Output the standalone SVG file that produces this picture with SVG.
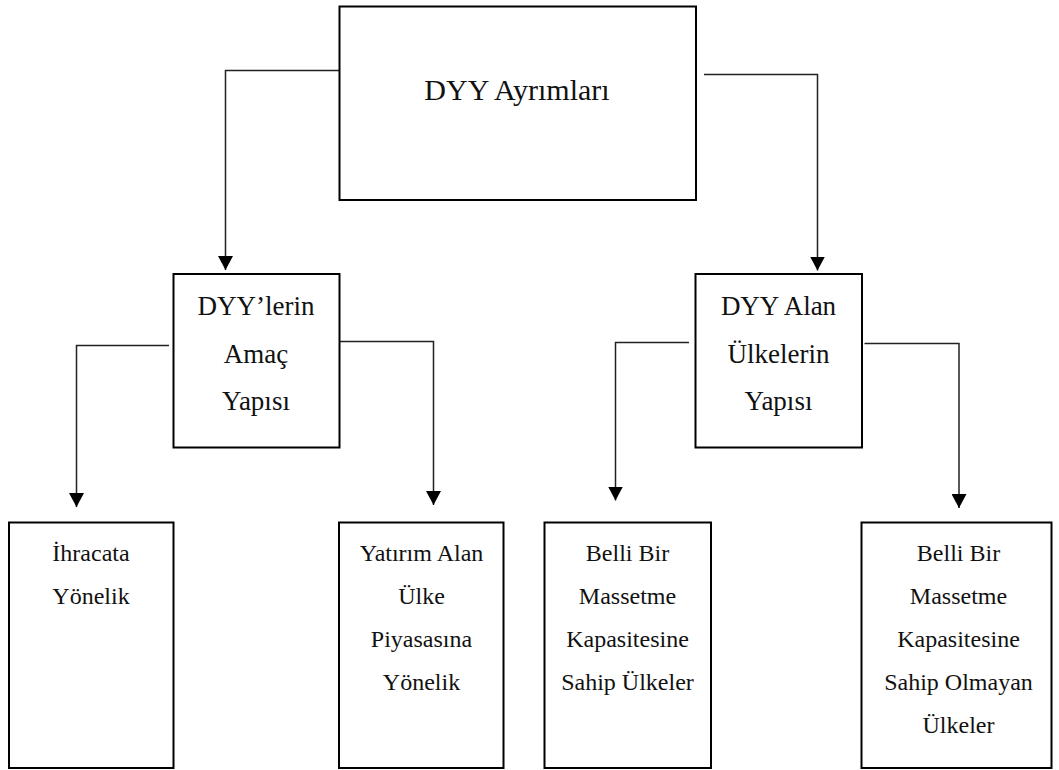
<svg xmlns="http://www.w3.org/2000/svg" width="1059" height="770" viewBox="0 0 1059 770">
<style>
.box{fill:#fff;stroke:#000;stroke-width:2}
.t{fill:#111;text-anchor:middle}
.t30{font-size:30px}
.t27{font-size:27px}
.t24{font-size:24px}
.c{fill:none;stroke:#222;stroke-width:1.5;marker-end:url(#ah)}
</style>
<defs>
<marker id="ah" markerUnits="userSpaceOnUse" markerWidth="14" markerHeight="15" viewBox="0 0 14 15" refX="14" refY="7.5" orient="auto">
<path d="M0,0 L14,7.5 L0,15 z" fill="#000"/>
</marker>
</defs>
<rect width="1059" height="770" fill="#fff"/>
<g id="connectors">
<path class="c" d="M339,70.5 H225.5 V270"/>
<path class="c" d="M704,74.5 H817.5 V270.5"/>
<path class="c" d="M169,345.5 H76.5 V507"/>
<path class="c" d="M339.5,341.5 H433.5 V505"/>
<path class="c" d="M689,342.5 H615.5 V500.5"/>
<path class="c" d="M864.5,343.5 H959 V508"/>
</g>
<g font-family="Liberation Serif, DejaVu Serif, serif">
<g id="n-top">
<rect class="box" x="339.5" y="6.5" width="356.5" height="193.5"/>
<text class="t t30" x="517" y="100">DYY Ayrımları</text>
</g>
<g id="n-amac">
<rect class="box" x="173.5" y="274" width="166" height="173.5"/>
<text class="t t27" x="256" y="315">DYY’lerin</text>
<text class="t t27" x="256" y="362.5">Amaç</text>
<text class="t t27" x="256" y="410">Yapısı</text>
</g>
<g id="n-alan">
<rect class="box" x="695.5" y="274" width="166.5" height="173.5"/>
<text class="t t27" x="778.5" y="315">DYY Alan</text>
<text class="t t27" x="778.5" y="362.5">Ülkelerin</text>
<text class="t t27" x="778.5" y="410">Yapısı</text>
</g>
<g id="n-ihracat">
<rect class="box" x="9" y="522.5" width="164.5" height="245.5"/>
<text class="t t24" x="91" y="561">İhracata</text>
<text class="t t24" x="91" y="604">Yönelik</text>
</g>
<g id="n-piyasa">
<rect class="box" x="339" y="522.5" width="164.5" height="245.5"/>
<text class="t t24" x="421.5" y="561">Yatırım Alan</text>
<text class="t t24" x="421.5" y="604">Ülke</text>
<text class="t t24" x="421.5" y="646.5">Piyasasına</text>
<text class="t t24" x="421.5" y="689.5">Yönelik</text>
</g>
<g id="n-sahip">
<rect class="box" x="544.5" y="522.5" width="166.5" height="245.5"/>
<text class="t t24" x="627.5" y="561">Belli Bir</text>
<text class="t t24" x="627.5" y="604">Massetme</text>
<text class="t t24" x="627.5" y="646.5">Kapasitesine</text>
<text class="t t24" x="627.5" y="689.5">Sahip Ülkeler</text>
</g>
<g id="n-sahip-degil">
<rect class="box" x="861.5" y="522.5" width="190" height="245.5"/>
<text class="t t24" x="958.5" y="561">Belli Bir</text>
<text class="t t24" x="958.5" y="604">Massetme</text>
<text class="t t24" x="958.5" y="646.5">Kapasitesine</text>
<text class="t t24" x="958.5" y="689.5">Sahip Olmayan</text>
<text class="t t24" x="958.5" y="732.5">Ülkeler</text>
</g>
</g>
</svg>
